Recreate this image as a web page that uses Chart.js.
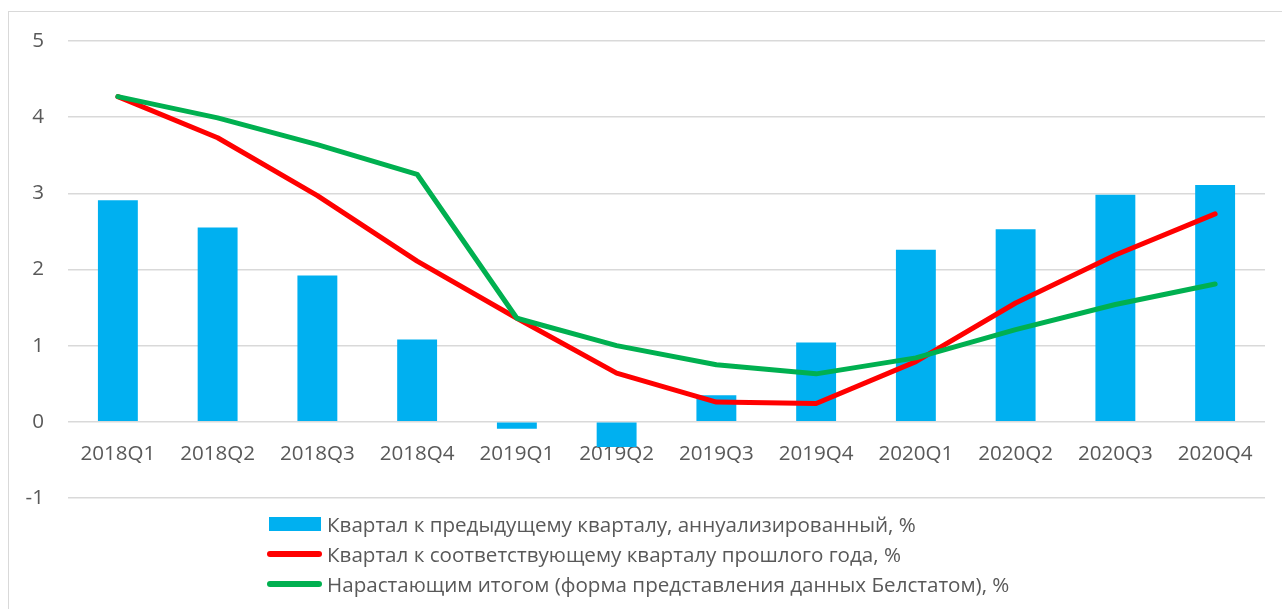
<!DOCTYPE html>
<html lang="ru">
<head>
<meta charset="UTF-8">
<title>Темпы роста ВВП</title>
<script src="https://cdn.jsdelivr.net/npm/chart.js"></script>
<style>
  html, body { margin: 0; padding: 0; background: #fff; }
  body { width: 1282px; height: 609px; overflow: hidden; position: relative; font-family: "Open Sans", sans-serif; }
  .frame { position: absolute; left: 8px; top: 11px; width: 1300px; height: 700px; border: 1.5px solid #d9d9d9; box-sizing: border-box; }
  .chart-box { position: absolute; left: 0; top: 0; width: 1282px; height: 609px; }
  .legend { position: absolute; left: 267px; top: 509px; color: #595959; font-size: 20.6px; }
  .legend-item { display: flex; align-items: center; height: 30px; white-space: nowrap; }
  .swatch { width: 55px; margin-right: 5px; flex: none; }
  .swatch.box { height: 14px; width: 52px; margin-left: 2px; margin-right: 6px; }
  .swatch.line { height: 6px; border-radius: 3px; }
</style>
</head>
<body>
<div class="frame"></div>
<div class="chart-box"><canvas id="growthChart"></canvas></div>
<div class="legend" id="legend"></div>
<script>
// data
const quarters = ['2018Q1', '2018Q2', '2018Q3', '2018Q4', '2019Q1', '2019Q2', '2019Q3', '2019Q4', '2020Q1', '2020Q2', '2020Q3', '2020Q4'];
const qoqAnnualized = [2.91, 2.55, 1.92, 1.08, -0.09, -0.33, 0.35, 1.04, 2.26, 2.53, 2.98, 3.11];
const yoy = [4.27, 3.73, 2.97, 2.11, 1.36, 0.64, 0.26, 0.24, 0.79, 1.56, 2.19, 2.73];
const cumulative = [4.27, 3.99, 3.64, 3.25, 1.36, 1.00, 0.75, 0.63, 0.84, 1.21, 1.54, 1.81];
const yTicks = [-1, 0, 1, 2, 3, 4, 5];

const seriesNames = [
    'Квартал к предыдущему кварталу, аннуализированный, %',
    'Квартал к соответствующему кварталу прошлого года, %',
    'Нарастающим итогом (форма представления данных Белстатом), %'
];

const textColor = '#595959';
const gridColor = '#d9d9d9';

const ctx = document.getElementById('growthChart').getContext('2d');
const chart = new Chart(ctx, {
    data: {
        labels: quarters,
        datasets: [{
            type: 'bar',
            label: seriesNames[0],
            data: qoqAnnualized,
            backgroundColor: '#00b0f0',
            barPercentage: 0.8,
            categoryPercentage: 0.5,
            order: 3
        }, {
            type: 'line',
            label: seriesNames[1],
            data: yoy,
            borderColor: '#ff0000',
            backgroundColor: '#ff0000',
            borderWidth: 5,
            borderCapStyle: 'round',
            borderJoinStyle: 'round',
            pointRadius: 0,
            tension: 0,
            fill: false,
            order: 2
        }, {
            type: 'line',
            label: seriesNames[2],
            data: cumulative,
            borderColor: '#00b050',
            backgroundColor: '#00b050',
            borderWidth: 5,
            borderCapStyle: 'round',
            borderJoinStyle: 'round',
            pointRadius: 0,
            tension: 0,
            fill: false,
            order: 1
        }]
    },
    options: {
        responsive: true,
        maintainAspectRatio: false,
        animation: false,
        layout: {
            padding: { top: 41, right: 17, bottom: 111, left: 0 }
        },
        plugins: {
            legend: { display: false },
            tooltip: { enabled: false }
        },
        scales: {
            x: {
                position: { y: 0 },
                grid: { display: false, drawTicks: false },
                border: { display: false },
                ticks: {
                    color: textColor,
                    font: { family: 'Open Sans', size: 20.6 },
                    padding: 20,
                    maxRotation: 0,
                    autoSkip: false
                }
            },
            y: {
                min: -1,
                max: 5,
                afterBuildTicks: (scale) => {
                    scale.ticks = yTicks.map(v => ({ value: v }));
                },
                afterFit: (scale) => { scale.width = 68; },
                grid: { color: gridColor, lineWidth: 1.5, drawTicks: false },
                border: { display: false },
                ticks: {
                    color: textColor,
                    font: { family: 'Open Sans', size: 20.6 },
                    padding: 24
                }
            }
        }
    }
});

// legend, one row per series
const legendEl = document.getElementById('legend');
chart.data.datasets.forEach(ds => {
    const row = document.createElement('div');
    row.className = 'legend-item';
    const sw = document.createElement('span');
    sw.className = 'swatch ' + (ds.type === 'bar' ? 'box' : 'line');
    sw.style.background = ds.type === 'bar' ? ds.backgroundColor : ds.borderColor;
    const txt = document.createElement('span');
    txt.textContent = ds.label;
    row.appendChild(sw);
    row.appendChild(txt);
    legendEl.appendChild(row);
});
</script>
</body>
</html>
